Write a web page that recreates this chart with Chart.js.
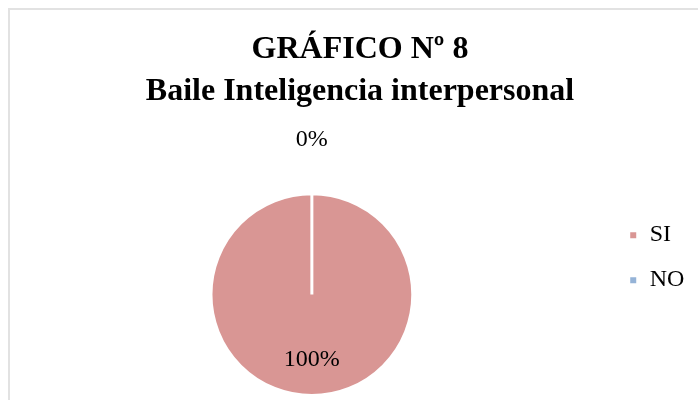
<!DOCTYPE html>
<html>
<head>
<meta charset="utf-8">
<script src="https://cdn.jsdelivr.net/npm/chart.js@4/dist/chart.umd.min.js"></script>
<style>
  html, body { margin: 0; padding: 0; background: #fff; overflow: hidden; }
  #frame { position: absolute; left: 8px; top: 8px; width: 740px; height: 440px; border: 2px solid #e2e2e2; }
  #wrap { position: absolute; left: 0; top: 0; width: 720px; height: 400px; }
</style>
</head>
<body>
<div id="frame"></div>
<div id="wrap"><canvas id="chart"></canvas></div>
<script>
const titleLines = ["GRÁFICO Nº 8", "Baile Inteligencia interpersonal"];
const categories = ["SI", "NO"];
const values = [100, 0];
const colors = ["#D99694", "#95B3D7"];

const serif = "'Liberation Serif', 'Times New Roman', serif";

// percentage labels, inside the slice or above the pie when the slice is empty
const pctLabels = {
  id: "pctLabels",
  afterDatasetsDraw(chart) {
    const ctx = chart.ctx;
    const data = chart.data.datasets[0].data;
    const total = data.reduce((a, b) => a + b, 0);
    ctx.save();
    ctx.font = "24px " + serif;
    ctx.fillStyle = "#000";
    ctx.textAlign = "center";
    ctx.textBaseline = "middle";
    chart.getDatasetMeta(0).data.forEach((arc, i) => {
      const p = arc.getProps(["x", "y", "startAngle", "endAngle", "outerRadius"], true);
      const mid = (p.startAngle + p.endAngle) / 2;
      const dist = data[i] > 0 ? p.outerRadius * 0.65 : p.outerRadius * 1.54;
      const pct = Math.round(data[i] / total * 100) + "%";
      ctx.fillText(pct, p.x + Math.cos(mid) * dist, p.y + Math.sin(mid) * dist);
    });
    ctx.restore();
  }
};

new Chart(document.getElementById("chart"), {
  type: "pie",
  data: {
    labels: categories,
    datasets: [{
      data: values,
      backgroundColor: colors,
      borderColor: "#ffffff",
      borderWidth: 3
    }]
  },
  options: {
    responsive: true,
    maintainAspectRatio: false,
    animation: false,
    layout: { padding: { left: 16, right: 16, top: 0, bottom: 3 } },
    plugins: {
      title: {
        display: true,
        text: titleLines,
        color: "#000",
        font: { family: serif, size: 32, weight: "bold", lineHeight: 1.3 },
        padding: { top: 29, bottom: 80 }
      },
      legend: {
        position: "right",
        align: "start",
        fullSize: false,
        title: { display: true, text: " ", font: { size: 10, lineHeight: 1 }, padding: 0 },
        labels: {
          color: "#000",
          boxWidth: 9,
          boxHeight: 9,
          padding: 21,
          font: { family: serif, size: 24 },
          // a little trailing room so the legend column is as wide as the original
          generateLabels(chart) {
            return Chart.controllers.pie.overrides.plugins.legend.labels.generateLabels(chart)
              .map(item => Object.assign(item, { text: item.text + "\u2009\u2009" }));
          }
        }
      },
      tooltip: { enabled: false }
    }
  },
  plugins: [pctLabels]
});
</script>
</body>
</html>
